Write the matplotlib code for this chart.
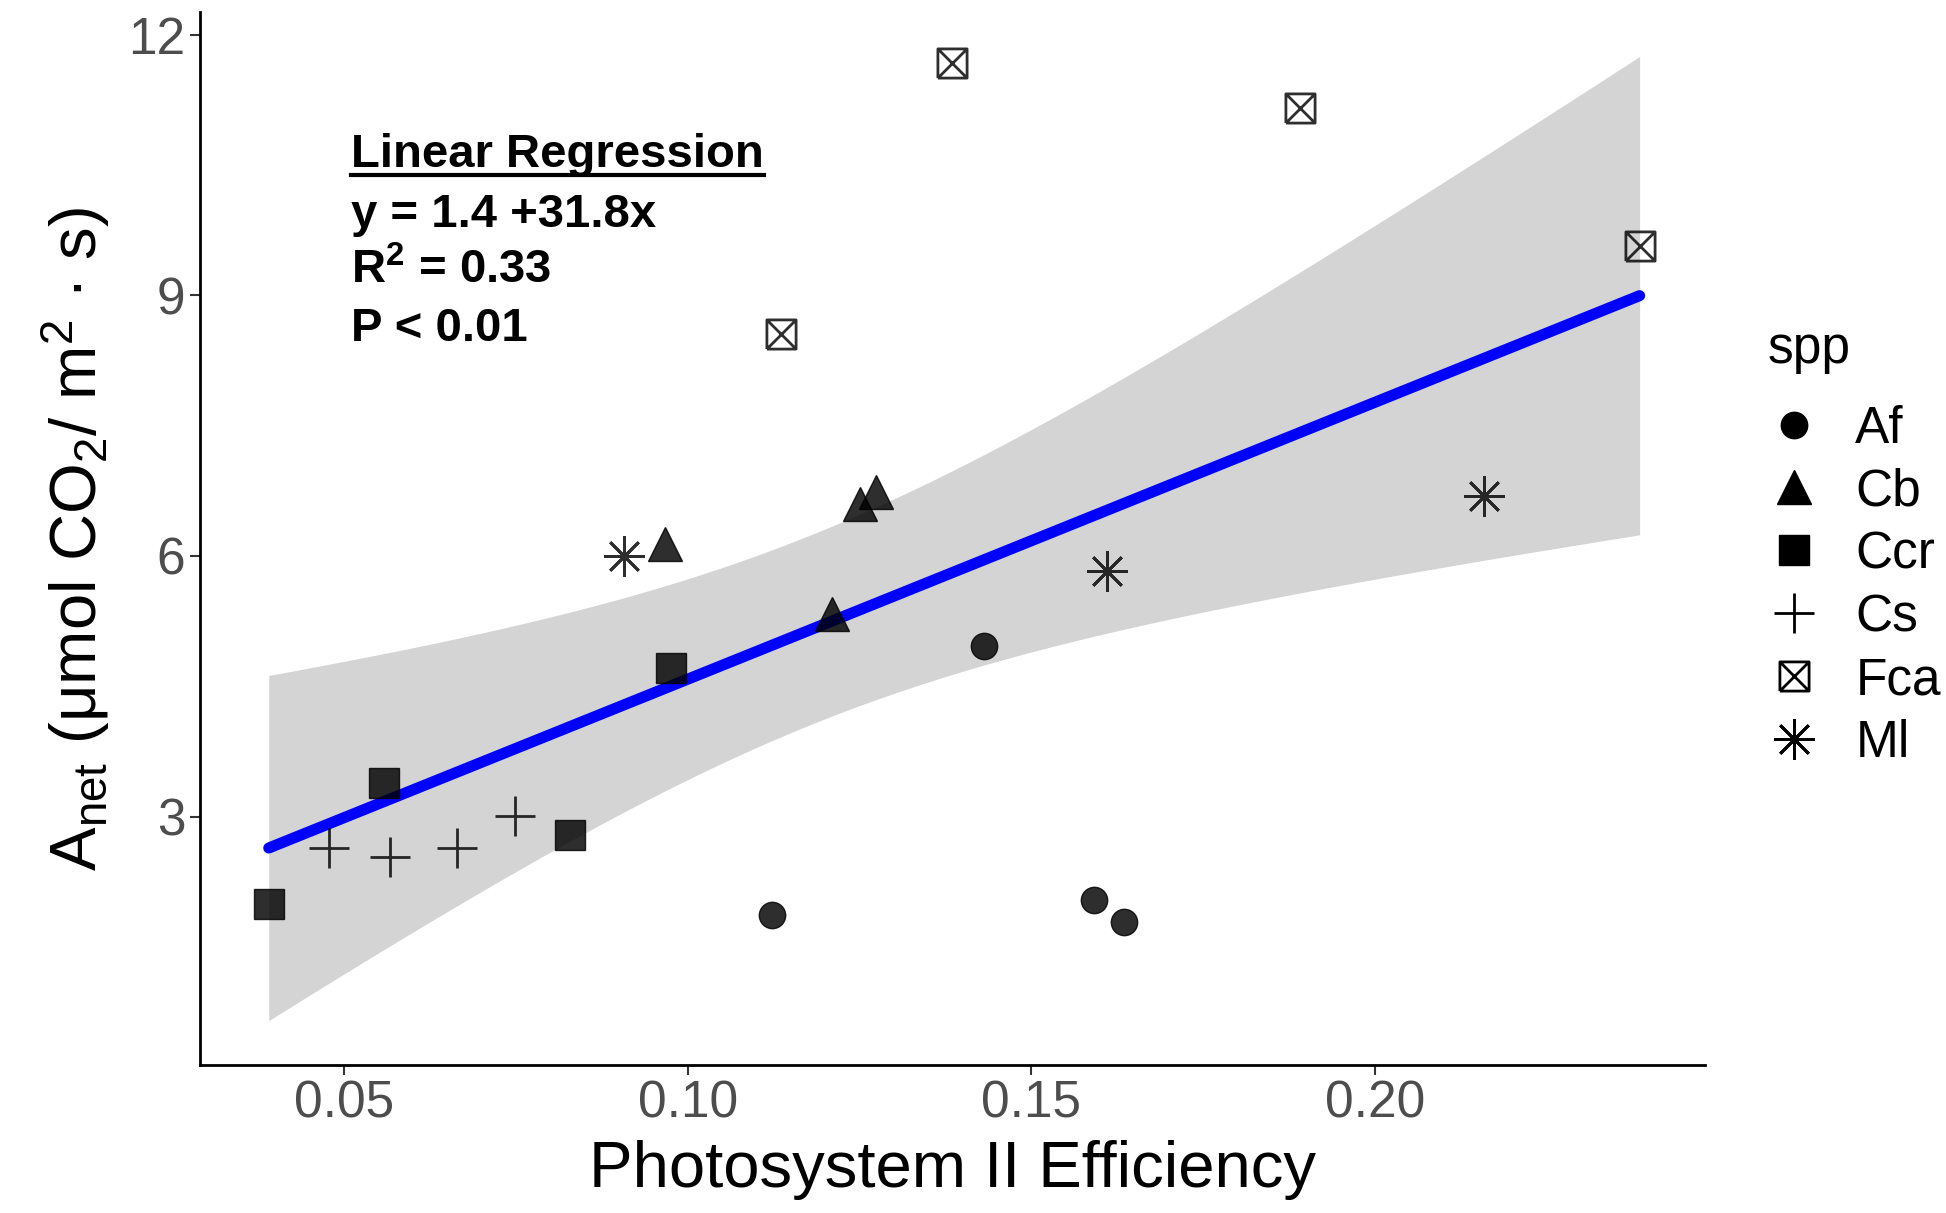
import numpy as np
import matplotlib
matplotlib.use("Agg")
import matplotlib.pyplot as plt
from matplotlib.path import Path
from matplotlib.lines import Line2D

plt.rcParams['font.family'] = ['Liberation Sans', 'DejaVu Sans']
plt.rcParams['mathtext.fontset'] = 'custom'
plt.rcParams['mathtext.rm'] = 'Liberation Sans'
plt.rcParams['mathtext.bf'] = 'Liberation Sans:bold'
plt.rcParams['mathtext.it'] = 'Liberation Sans:italic'

# dados (espécie -> eficiência PSII, Anet)
species = ['Af', 'Cb', 'Ccr', 'Cs', 'Fca', 'Ml']
af_x = [0.1123, 0.1591, 0.1635, 0.1431]
af_y = [1.87, 2.04, 1.79, 4.96]
cb_x = [0.0966, 0.1250, 0.1273, 0.1210]
cb_y = [6.14, 6.60, 6.74, 5.33]
ccr_x = [0.0390, 0.0558, 0.0829, 0.0975]
ccr_y = [1.99, 3.39, 2.79, 4.71]
cs_x = [0.0478, 0.0567, 0.0664, 0.0749]
cs_y = [2.64, 2.53, 2.64, 3.01]
fca_x = [0.1384, 0.1891, 0.2385, 0.1136]
fca_y = [11.67, 11.16, 9.57, 8.56]
ml_x = [0.0907, 0.1610, 0.2159]
ml_y = [6.00, 5.83, 6.69]

x_ticks = [0.05, 0.10, 0.15, 0.20]
y_ticks = [3, 6, 9, 12]

# marcador "quadrado com X" (shape 7 do ggplot)
sq = Path([(-1, -1), (1, -1), (1, 1), (-1, 1), (-1, -1)],
          [Path.MOVETO, Path.LINETO, Path.LINETO, Path.LINETO, Path.LINETO])
xx = Path([(-1, -1), (1, 1), (-1, 1), (1, -1)],
          [Path.MOVETO, Path.LINETO, Path.MOVETO, Path.LINETO])
box_x = Path.make_compound_path(sq, xx)

estilos = {
    'Af': dict(marker='o', ms=19),
    'Cb': dict(marker='^', ms=24),
    'Ccr': dict(marker='s', ms=21),
    'Cs': dict(marker='+', ms=29, mew=2),
    'Fca': dict(marker=box_x, ms=21, mew=2, mfc='none'),
    'Ml': dict(marker=(8, 2, 0), ms=29, mew=2),
}
dados = {'Af': (af_x, af_y), 'Cb': (cb_x, cb_y), 'Ccr': (ccr_x, ccr_y),
         'Cs': (cs_x, cs_y), 'Fca': (fca_x, fca_y), 'Ml': (ml_x, ml_y)}

fig = plt.figure(figsize=(19.46, 12.13), dpi=100)
ax = fig.add_axes([0.1028, 0.122, 0.7733, 0.868])

# regressão linear + IC 95%
all_x = np.concatenate([np.array(v[0]) for v in dados.values()])
all_y = np.concatenate([np.array(v[1]) for v in dados.values()])
n = len(all_x)
b1, b0 = np.polyfit(all_x, all_y, 1)
res = all_y - (b0 + b1 * all_x)
s = np.sqrt(np.sum(res ** 2) / (n - 2))
xg = np.linspace(all_x.min(), all_x.max(), 200)
se = s * np.sqrt(1 / n + (xg - all_x.mean()) ** 2 / np.sum((all_x - all_x.mean()) ** 2))
t = 2.10
yg = b0 + b1 * xg
ax.fill_between(xg, yg - t * se, yg + t * se, color='#D4D4D4', lw=0, zorder=1)
ax.plot(xg, yg, color='#0000FF', lw=8, zorder=2, solid_capstyle='round')
print(b0, b1, n)

for sp in species:
    xs, ys = dados[sp]
    st = estilos[sp]
    ax.plot(xs, ys, ls='none', color='black', alpha=0.82, zorder=3, **st)

ax.set_xlim(0.029, 0.248)
ax.set_ylim(0.14, 12.26)
ax.set_xticks(x_ticks)
ax.set_xticklabels(['0.05', '0.10', '0.15', '0.20'])
ax.set_yticks(y_ticks)
ax.tick_params(labelsize=37, labelcolor='#4D4D4D', color='#333333', length=7, width=1.5)
for side in ['top', 'right']:
    ax.spines[side].set_visible(False)
for side in ['left', 'bottom']:
    ax.spines[side].set_linewidth(2)

ax.set_xlabel('Photosystem II Efficiency', fontsize=47, labelpad=8)
ax.set_ylabel('A$_{\\mathrm{net}}$ (μmol CO$_{\\mathrm{2}}$/ m$^{\\mathrm{2}}$ · s)', fontsize=47, labelpad=12)

# texto da regressão
txt = fig.text(351 / 1946, 1 - 155 / 1213, 'Linear Regression', fontsize=34,
               fontweight='bold', va='center', ha='left')
fig.text(351 / 1946, 1 - 215 / 1213, 'y = 1.4 +31.8x', fontsize=34, fontweight='bold', va='center')
fig.text(351 / 1946, 1 - 271 / 1213, 'R$^{\\mathbf{2}}$ = 0.33', fontsize=34, fontweight='bold', va='center')
fig.text(351 / 1946, 1 - 329 / 1213, 'P < 0.01', fontsize=34, fontweight='bold', va='center')
fig.canvas.draw()
bb = txt.get_window_extent().transformed(fig.transFigure.inverted())
fig.add_artist(Line2D([bb.x0, bb.x1], [bb.y0 + 0.002, bb.y0 + 0.002], color='black', lw=3,
                      transform=fig.transFigure))

handles = [Line2D([], [], ls='none', color='black', **estilos[sp]) for sp in species]
leg = ax.legend(handles, species, title='spp', loc='upper left',
                bbox_to_anchor=(1768 / 1946, 1 - 325 / 1213), bbox_transform=fig.transFigure,
                frameon=False, fontsize=37, title_fontsize=37, alignment='left',
                borderpad=0, borderaxespad=0, handlelength=1.0, handletextpad=0.7,
                labelspacing=0.27, markerscale=1.0)
leg._legend_box.sep = 22

fig.savefig('out.png', dpi=100)
